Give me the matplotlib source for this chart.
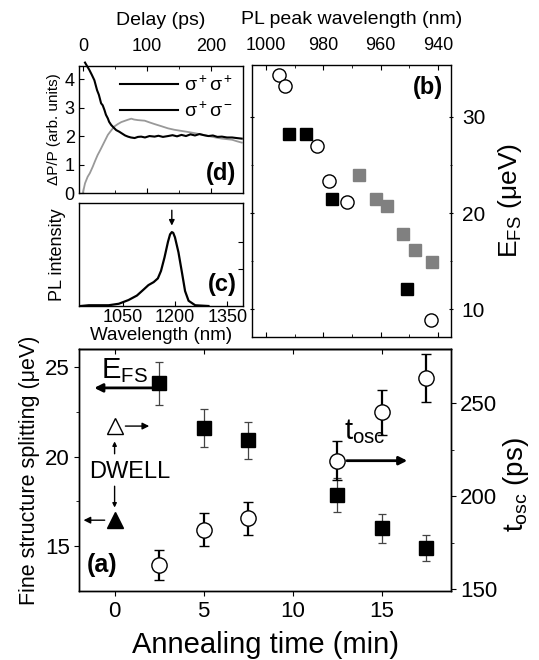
import matplotlib.pyplot as plt

plt.rcParams['font.family'] = ['Liberation Sans', 'DejaVu Sans']
plt.rcParams['mathtext.fontset'] = 'custom'
plt.rcParams['mathtext.rm'] = 'Liberation Sans'
plt.rcParams['mathtext.it'] = 'Liberation Sans:italic'
plt.rcParams['mathtext.bf'] = 'Liberation Sans:bold'
plt.rcParams['axes.linewidth'] = 1.0

# panel (a): fine structure splitting and t_osc vs annealing time
anneal = [2.5, 5, 7.5, 12.5, 15, 17.5]
efs = [24.1, 21.6, 20.9, 17.85, 16.0, 14.9]
efs_err = [1.2, 1.05, 1.05, 0.95, 0.8, 0.75]
tosc = [163, 182, 188, 219, 245, 263.5]
tosc_err = [8, 9, 9, 10.5, 12, 13]
dwell_open = (0, 21.7)
dwell_filled = (0, 16.45)

# panel (b): E_FS vs PL peak wavelength
b_circ_wl = [995.7, 993.3, 982.1, 978.0, 971.8, 942.5]
b_circ_e = [34.4, 33.2, 27.0, 23.3, 21.1, 8.9]
b_blk_wl = [992.1, 986.2, 977.1, 950.9]
b_blk_e = [28.25, 28.25, 21.5, 12.1]
b_gry_wl = [967.7, 961.7, 957.9, 952.1, 948.0, 942.0]
b_gry_e = [23.95, 21.5, 20.75, 17.8, 16.2, 14.9]

# panel (c): PL spectrum
pl_wl = [930, 953, 1010, 1039, 1067, 1091, 1110, 1124, 1139, 1151, 1160, 1170,
         1180, 1186, 1191, 1195, 1200, 1210, 1220, 1229, 1239, 1258, 1296]
pl_int = [0.0, 0.01, 0.01, 0.03, 0.08, 0.14, 0.22, 0.28, 0.32, 0.37, 0.47, 0.65,
          0.86, 0.96, 0.99, 0.98, 0.92, 0.72, 0.45, 0.2, 0.07, 0.01, 0.0]

# panel (d): pump-probe traces
t_same = [3.4, 6, 10.2, 14, 18, 22.2, 25, 28.5, 31, 33.8, 36, 39, 41, 44.2, 48, 52,
          57, 62.5, 66, 70.4, 75, 80.8, 86, 91, 97, 104, 112, 118, 125, 133, 140,
          147, 154, 161, 168, 175, 182, 189, 196, 203, 210, 217, 225, 233, 240, 248]
dp_same = [4.58, 4.48, 4.32, 4.15, 3.96, 3.61, 3.45, 3.15, 3.08, 2.91, 2.75, 2.62,
           2.5, 2.39, 2.3, 2.21, 2.15, 2.07, 2.02, 1.98, 1.95, 1.93, 1.97, 1.98, 1.95,
           2.0, 1.98, 2.01, 1.97, 2.0, 2.03, 1.99, 2.04, 2.0, 2.06, 2.02, 2.07, 2.03,
           2.0, 2.02, 1.97, 1.98, 1.95, 1.95, 1.93, 1.91]
t_opp = [0, 3.4, 7.5, 11, 15.4, 19, 23, 27, 31, 35, 39, 43, 46.8, 50, 54.6, 60, 65,
         70, 75.6, 80, 86, 91, 96.5, 104, 112, 122, 133, 143, 154, 165, 175, 186,
         196, 207, 217, 225, 233, 240, 248]
dp_opp = [0.0, 0.34, 0.57, 0.7, 0.92, 1.12, 1.33, 1.5, 1.68, 1.86, 2.04, 2.16, 2.27,
          2.35, 2.42, 2.49, 2.53, 2.57, 2.61, 2.58, 2.56, 2.55, 2.54, 2.48, 2.42,
          2.35, 2.27, 2.22, 2.18, 2.14, 2.1, 2.05, 2.0, 1.95, 1.91, 1.89, 1.87, 1.82,
          1.77]

fig = plt.figure(figsize=(5.39, 6.6), dpi=100)


def box(l, t, r, b):
    return [l / 539, 1 - b / 660, (r - l) / 539, (b - t) / 660]


axd = fig.add_axes(box(79, 66, 243, 193))
axc = fig.add_axes(box(79, 203, 243, 306))
axb = fig.add_axes(box(252, 65, 451, 337))
axa = fig.add_axes(box(79, 349, 451, 591))

# ---- (d)
axd.plot(t_opp, dp_opp, color='#999999', lw=1.3)
axd.plot(t_same, dp_same, color='black', lw=1.5, clip_on=False)
axd.plot([], [], color='black', lw=1.5, label=r'$\mathregular{σ^+σ^+}$')
axd.plot([], [], color='black', lw=1.5, label=r'$\mathregular{σ^+σ^-}$')
axd.legend(loc='upper right', frameon=False, fontsize=14, handlelength=3.0,
           borderaxespad=0.1, labelspacing=0.35, handletextpad=0.3)
axd.set_xlim(-6, 250)
axd.set_ylim(0, 4.46)
axd.set_xticks([0, 100, 200])
axd.set_xticks([50, 150, 250], minor=True)
axd.set_yticks([0, 1, 2, 3, 4])
axd.tick_params(axis='x', which='both', direction='in', top=True, bottom=True,
                labeltop=True, labelbottom=False, labelsize=13, pad=8)
axd.tick_params(axis='y', direction='in', labelsize=13, pad=3)
axd.xaxis.set_label_position('top')
axd.set_xlabel('Delay (ps)', fontsize=14, labelpad=9)
axd.set_ylabel('ΔP/P (arb. units)', fontsize=11, labelpad=3)
axd.text(0.96, 0.06, '(d)', transform=axd.transAxes, ha='right', va='bottom',
         fontsize=17, fontweight='bold')

# ---- (c)
axc.plot(pl_wl, pl_int, color='black', lw=1.6)
axc.set_xlim(925, 1395)
axc.set_ylim(0, 1.38)
axc.set_xticks([1050, 1200, 1350])
axc.set_yticks([0.5, 0.86])
axc.set_yticklabels([])
axc.tick_params(axis='x', direction='in', labelsize=13, pad=2)
axc.tick_params(axis='y', direction='in', left=False, right=True)
axc.set_xlabel('Wavelength (nm)', fontsize=13.5, labelpad=1)
axc.set_ylabel('PL intensity', fontsize=13, labelpad=6)
axc.annotate('', xy=(1191, 1.04), xytext=(1191, 1.32),
             arrowprops=dict(arrowstyle='-|>', color='black', lw=1, mutation_scale=8))
axc.text(0.96, 0.1, '(c)', transform=axc.transAxes, ha='right', va='bottom',
         fontsize=17, fontweight='bold')

# ---- (b)
axb.plot(b_circ_wl, b_circ_e, 'o', ms=9.5, mfc='white', mec='black', mew=1.0)
axb.plot(b_blk_wl, b_blk_e, 's', ms=9, color='black')
axb.plot(b_gry_wl, b_gry_e, 's', ms=9, color='#808080')
axb.set_xlim(1005, 935.4)
axb.set_ylim(7.1, 35.4)
axb.set_xticks([1000, 980, 960, 940])
axb.set_xticks([990, 970, 950], minor=True)
axb.set_yticks([10, 20, 30])
axb.set_yticks([15, 25], minor=True)
axb.yaxis.set_label_position('right')
axb.xaxis.set_label_position('top')
axb.tick_params(axis='x', which='both', direction='in', top=True, bottom=True,
                labeltop=True, labelbottom=False, labelsize=13, pad=8)
axb.tick_params(axis='y', which='both', direction='inout', left=True, right=True,
                labelleft=False, labelright=True, labelsize=15, pad=6)
axb.set_xlabel('PL peak wavelength (nm)', fontsize=14, labelpad=9)
axb.set_ylabel(r'E$_\mathregular{FS}$ (μeV)', fontsize=19, labelpad=8)
axb.text(0.96, 0.96, '(b)', transform=axb.transAxes, ha='right', va='top',
         fontsize=17, fontweight='bold')

# ---- (a)
axa2 = axa.twinx()
axa.errorbar(anneal, efs, yerr=efs_err, fmt='s', ms=10, color='black',
             ecolor='#444444', elinewidth=0.9, capsize=3, capthick=0.9)
axa2.errorbar(anneal, tosc, yerr=tosc_err, fmt='o', ms=11, mfc='white', mec='black',
              mew=1.0, ecolor='black', elinewidth=1.6, capsize=3.5, capthick=1.6)
axa.plot(*dwell_open, '^', ms=12, mfc='white', mec='black', mew=1.0)
axa.plot(*dwell_filled, '^', ms=12, color='black')
axa.set_xlim(-2, 18.9)
axa.set_ylim(12.5, 26)
axa2.set_ylim(149, 279)
axa.set_xticks([0, 5, 10, 15])
axa.set_yticks([15, 20, 25])
axa.set_yticks([17.5, 22.5], minor=True)
axa2.set_yticks([150, 200, 250])
axa2.set_yticks([175, 225], minor=True)
axa.tick_params(axis='x', direction='out', top=False, labelsize=16, pad=4)
axa.secondary_xaxis('top').tick_params(direction='in', labeltop=False)
axa.tick_params(axis='y', which='both', direction='out', labelsize=16, pad=3)
axa2.tick_params(axis='y', which='both', direction='out', labelsize=16, pad=3)
axa.set_xlabel('Annealing time (min)', fontsize=21, labelpad=6)
axa.set_ylabel('Fine structure splitting (μeV)', fontsize=15.5, labelpad=4)
axa2.set_ylabel(r't$_\mathregular{osc}$ (ps)', fontsize=20, labelpad=6)
axa2.yaxis.set_label_coords(1.135, 0.44)

arr = dict(arrowstyle='-|>', color='black', lw=1.0, mutation_scale=10)
arr_thick = dict(arrowstyle='-|>', color='black', lw=2.0, mutation_scale=12)
axa.annotate('', xy=(-1.3, 23.83), xytext=(2.3, 23.83), arrowprops=arr_thick)
axa.text(-0.75, 24.0, r'E$_\mathregular{FS}$', fontsize=21, ha='left', va='bottom')
axa.annotate('', xy=(2.1, 21.7), xytext=(0.45, 21.7), arrowprops=arr)
axa.annotate('', xy=(-1.9, 16.45), xytext=(-0.4, 16.45), arrowprops=arr)
axa.annotate('', xy=(0, 21.0), xytext=(0, 20.0), arrowprops=dict(arr, mutation_scale=6))
axa.annotate('', xy=(0, 17.0), xytext=(0, 18.5), arrowprops=dict(arr, mutation_scale=6))
axa.text(0.85, 19.15, 'DWELL', fontsize=17, ha='center', va='center')
axa2.annotate('', xy=(16.6, 219), xytext=(12.9, 219), arrowprops=arr_thick)
axa2.text(12.9, 227, r't$_\mathregular{osc}$', fontsize=21, ha='left', va='bottom')
axa.text(-1.55, 13.3, '(a)', fontsize=18, fontweight='bold', ha='left', va='bottom')

fig.savefig('out.png', dpi=100)
